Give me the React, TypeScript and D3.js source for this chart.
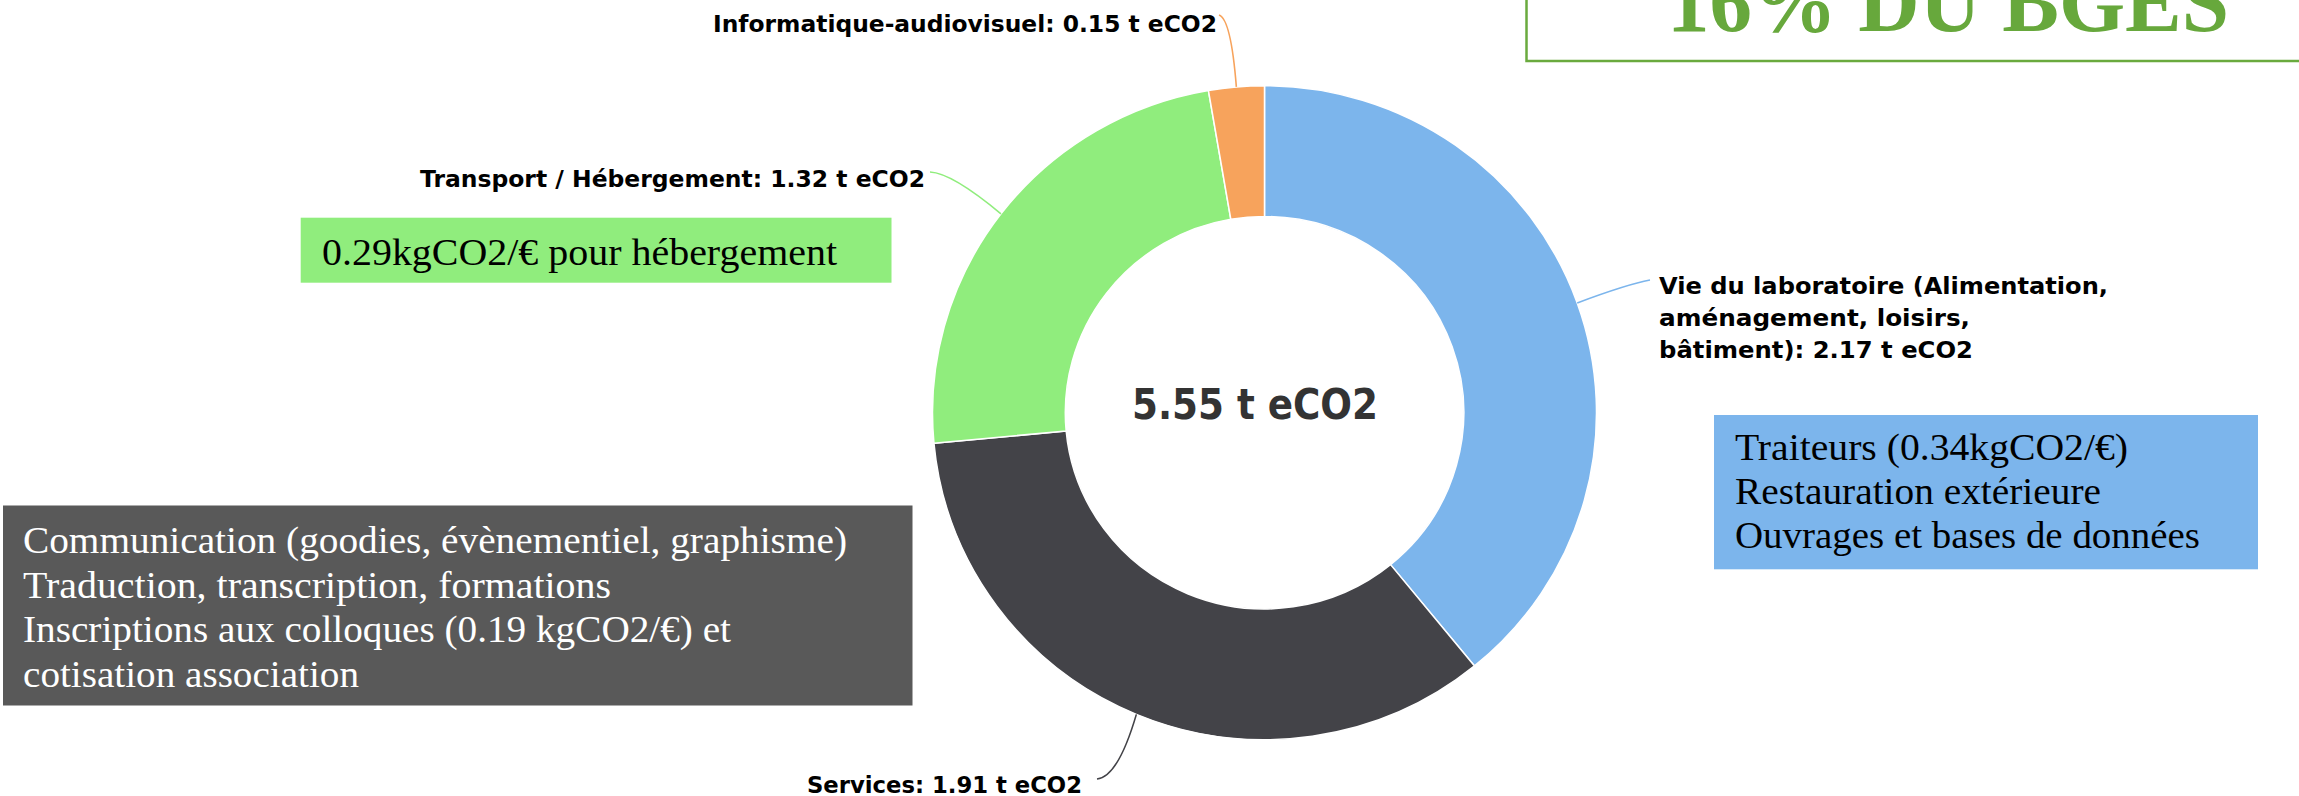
import React from "react";
import * as d3 from "d3";

// ---------- data ----------
const categories = [
  "Vie du laboratoire (Alimentation, aménagement, loisirs, bâtiment)",
  "Services",
  "Transport / Hébergement",
  "Informatique-audiovisuel",
];
const categoryLines = [
  ["Vie du laboratoire (Alimentation,", "aménagement, loisirs,", "bâtiment)"],
  ["Services"],
  ["Transport / Hébergement"],
  ["Informatique-audiovisuel"],
];
const values = [2.17, 1.91, 1.32, 0.15];
const colors = ["#7cb5ec", "#434348", "#90ed7d", "#f7a35c"];
const unit = "t eCO2";
const headline = "16% DU BGES";
const greenNote = ["0.29kgCO2/€ pour hébergement"];
const blueNote = ["Traiteurs (0.34kgCO2/€)", "Restauration extérieure", "Ouvrages et bases de données"];
const darkNote = [
  "Communication (goodies, évènementiel, graphisme)",
  "Traduction, transcription, formations",
  "Inscriptions aux colloques (0.19 kgCO2/€) et",
  "cotisation association",
];

// ---------- layout ----------
const W = 2299;
const H = 796;
const CX = 1264.5;
const CY = 412.7;
const R = 327;
const SX = 332 / 327;
const INNER = 0.6;

const labelLayout = [
  { x: 1659, y: 293.5, anchor: "start", lh: 32, widths: [449, 311, 314], conn: [1650, 280, 1628, 284] },
  { x: 807, y: 793, anchor: "start", lh: 32, widths: [275], conn: [1097, 779, 1118, 777] },
  { x: 925, y: 186.5, anchor: "end", lh: 32, widths: [505], conn: [930, 172, 952, 173] },
  { x: 1217, y: 31.5, anchor: "end", lh: 32, widths: [504], conn: [1219, 15, 1231, 19] },
];

const noteBoxes = [
  { lines: greenNote, fill: "#90ed7d", color: "#000", x0: 300.7, y0: 217.7, x1: 891.5, y1: 282.7, tx: 322, ty: 265, lh: 44, widths: [515] },
  { lines: blueNote, fill: "#7cb5ec", color: "#000", x0: 1714, y0: 415, x1: 2258, y1: 569.3, tx: 1735, ty: 460, lh: 44, widths: [393, 366, 465] },
  { lines: darkNote, fill: "#595959", color: "#fff", x0: 3, y0: 505.5, x1: 912.5, y1: 705.5, tx: 23, ty: 553, lh: 44.5, widths: [824, 588, 708, 336] },
];

export default function App() {
  const total = d3.sum(values);
  const pie = d3
    .pie<number>()
    .sort(null)
    .value((d) => d)
    .startAngle(0)
    .endAngle(2 * Math.PI);
  const arcs = pie(values);
  const arc = d3
    .arc<d3.PieArcDatum<number>>()
    .innerRadius(R * INNER)
    .outerRadius(R);

  const edgePoint = (a: d3.PieArcDatum<number>) => {
    const m = (a.startAngle + a.endAngle) / 2;
    return [CX + R * SX * Math.sin(m), CY - R * Math.cos(m)];
  };

  const labelFont = "'DejaVu Sans', Verdana, sans-serif";
  const serif = "'Liberation Serif', 'Times New Roman', serif";

  return (
    <div style={{ position: "absolute", left: 0, top: 0, width: W, height: H, background: "#fff" }}>
      <svg width={W} height={H} style={{ display: "block" }}>
        <rect x={0} y={0} width={W} height={H} fill="#fff" />

        {/* headline box */}
        <rect x={1526.5} y={-20} width={900} height={81} fill="none" stroke="#6aaa3e" strokeWidth={2.5} />
        <text
          x={1667}
          y={31}
          fontFamily={serif}
          fontWeight="bold"
          fontSize={86}
          fill="#67a83c"
          textLength={562}
          lengthAdjust="spacingAndGlyphs"
        >
          {headline}
        </text>

        {/* donut */}
        <g transform={`translate(${CX},${CY}) scale(${SX},1)`}>
          {arcs.map((a, i) => (
            <path key={i} d={arc(a) || ""} fill={colors[i]} stroke="#fff" strokeWidth={1.5} strokeLinejoin="round" />
          ))}
        </g>

        {/* connectors */}
        {arcs.map((a, i) => {
          const [ex, ey] = edgePoint(a);
          const [sx, sy, qx, qy] = labelLayout[i].conn;
          return (
            <path
              key={"c" + i}
              d={`M${sx},${sy} Q${qx},${qy} ${ex},${ey}`}
              fill="none"
              stroke={colors[i]}
              strokeWidth={1.6}
            />
          );
        })}

        {/* data labels */}
        {categories.map((c, i) => {
          const L = labelLayout[i];
          const lines = categoryLines[i].slice();
          lines[lines.length - 1] = `${lines[lines.length - 1]}: ${values[i]} ${unit}`;
          return (
            <text
              key={"l" + i}
              fontFamily={labelFont}
              fontWeight="bold"
              fontSize={23}
              fill="#000"
              textAnchor={L.anchor}
            >
              {lines.map((ln, j) => (
                <tspan
                  key={j}
                  x={L.x}
                  y={L.y + j * L.lh}
                  textLength={L.widths[j]}
                  lengthAdjust="spacingAndGlyphs"
                >
                  {ln}
                </tspan>
              ))}
            </text>
          );
        })}

        {/* total in centre */}
        <text
          x={1255}
          y={419}
          textAnchor="middle"
          fontFamily={labelFont}
          fontWeight="bold"
          fontSize={42}
          fill="#333333"
          textLength={246}
          lengthAdjust="spacingAndGlyphs"
        >
          {`${d3.format(".2f")(total)} ${unit}`}
        </text>

        {/* annotation boxes */}
        {noteBoxes.map((b, i) => (
          <g key={"n" + i}>
            <rect x={b.x0} y={b.y0} width={b.x1 - b.x0} height={b.y1 - b.y0} fill={b.fill} />
            <text fontFamily={serif} fontSize={38} fill={b.color}>
              {b.lines.map((ln, j) => (
                <tspan
                  key={j}
                  x={b.tx}
                  y={b.ty + j * b.lh}
                  textLength={b.widths[j]}
                  lengthAdjust="spacingAndGlyphs"
                >
                  {ln}
                </tspan>
              ))}
            </text>
          </g>
        ))}
      </svg>
    </div>
  );
}
